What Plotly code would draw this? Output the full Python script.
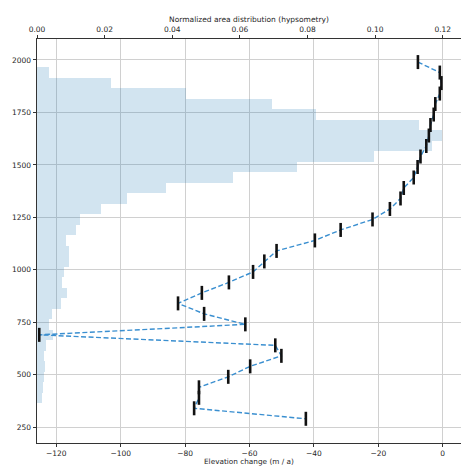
import plotly.graph_objects as go

# Elevation bin centres (m)
elevation = [1990, 1940, 1890, 1840, 1790, 1740, 1690, 1640, 1590, 1540, 1490, 1440,
             1390, 1340, 1290, 1240, 1190, 1140, 1090, 1040, 990, 940, 890, 840,
             790, 740, 690, 640, 590, 540, 490, 440, 390, 340, 290]

# Elevation change (m / a)
elev_change = [-7.7, -0.9, -0.4, -0.9, -2.3, -2.8, -3.8, -4.3, -5.1, -6.9, -7.8, -9.0,
               -12.1, -13.1, -16.4, -21.8, -31.7, -39.7, -51.6, -55.4, -58.9, -66.4, -74.8, -82.2,
               -74.1, -61.3, -125.3, -52.0, -50.1, -59.8, -66.6, -75.7, -75.7, -77.2, -42.5]

# Normalized area distribution (hypsometry)
hypsometry = [0.0, 0.0035, 0.0218, 0.0442, 0.0696, 0.0824, 0.1130, 0.1199, 0.1167, 0.0997, 0.0770, 0.0579,
              0.0382, 0.0265, 0.0189, 0.0127, 0.0116, 0.0086, 0.0094, 0.0094, 0.0081, 0.0073, 0.0088, 0.0072,
              0.0044, 0.0034, 0.0047, 0.0027, 0.0020, 0.0025, 0.0022, 0.0019, 0.0014, 0.0, 0.0]

bottom_tickvals = [-120, -100, -80, -60, -40, -20, 0]
bottom_ticktext = ["\u2212120", "\u2212100", "\u221280", "\u221260", "\u221240", "\u221220", "0"]
top_tickvals = [0.00, 0.02, 0.04, 0.06, 0.08, 0.10, 0.12]
y_tickvals = [250, 500, 750, 1000, 1250, 1500, 1750, 2000]

FONT = "DejaVu Sans"
TICKCOL = "#262626"

fig = go.Figure()

fig.add_trace(go.Bar(
    x=hypsometry, y=elevation, orientation="h", width=50,
    xaxis="x", yaxis="y",
    marker=dict(color="rgba(31,119,180,0.2)", line=dict(width=0)),
    showlegend=False, hoverinfo="skip",
))

fig.add_trace(go.Scatter(
    x=elev_change, y=elevation, xaxis="x2", yaxis="y",
    mode="lines+markers",
    line=dict(color="#3a8fd0", width=1.4, dash="5px,2.5px"),
    marker=dict(symbol="line-ns", size=10, color="#111111",
                line=dict(width=2.6, color="#111111")),
    showlegend=False, hoverinfo="skip",
))

fig.update_layout(
    width=461, height=466,
    margin=dict(l=37, r=0, t=39, b=23),
    paper_bgcolor="white", plot_bgcolor="white",
    font=dict(family=FONT, size=7.5, color=TICKCOL),
    bargap=0,
    xaxis=dict(
        side="top", range=[0.0, 0.1254], tickvals=top_tickvals, tickformat=".2f",
        showgrid=False, zeroline=False,
        showline=True, linecolor="#333333", linewidth=1,
        ticks="outside", ticklen=3.5, tickwidth=0.8, tickcolor="#333333",
        tickfont=dict(family=FONT, size=7.5, color=TICKCOL),
        title=dict(text="Normalized area distribution (hypsometry)",
                   font=dict(family=FONT, size=7.5, color=TICKCOL), standoff=0),
        automargin=False,
    ),
    xaxis2=dict(
        overlaying="x", side="bottom", range=[-126.0, 5.68],
        tickvals=bottom_tickvals, ticktext=bottom_ticktext,
        showgrid=True, gridcolor="#d0d0d0", gridwidth=1, zeroline=False,
        showline=True, linecolor="#333333", linewidth=1,
        ticks="outside", ticklen=3, tickwidth=0.8, tickcolor="#333333",
        tickfont=dict(family=FONT, size=7.5, color=TICKCOL),
        automargin=False,
    ),
    yaxis=dict(
        range=[174.6, 2100], tickvals=y_tickvals,
        showgrid=True, gridcolor="#d0d0d0", gridwidth=1, zeroline=False,
        showline=True, linecolor="#333333", linewidth=1,
        ticks="outside", ticklen=3.5, tickwidth=0.8, tickcolor="#333333",
        tickfont=dict(family=FONT, size=7.5, color=TICKCOL),
        automargin=False,
    ),
    annotations=[dict(
        text="Elevation change (m / a)", xref="paper", yref="paper",
        x=0.5, y=0, xanchor="center", yanchor="middle", yshift=-18.3,
        borderpad=0, showarrow=False, font=dict(family=FONT, size=7.3, color=TICKCOL),
    )],
)

fig.write_html(
    "out.html",
    config={"displayModeBar": False},
    post_script="document.body.style.margin='0';document.body.style.overflow='hidden';",
)
